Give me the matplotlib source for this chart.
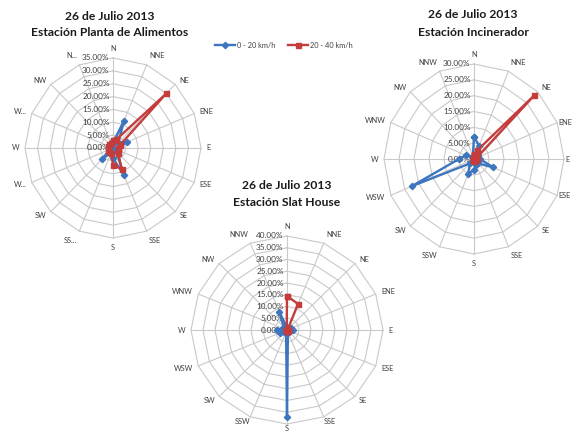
import matplotlib
matplotlib.use('Agg')
import matplotlib.pyplot as plt
import numpy as np

# ---------------- data ----------------
directions = ['N', 'NNE', 'NE', 'ENE', 'E', 'ESE', 'SE', 'SSE',
              'S', 'SSW', 'SW', 'WSW', 'W', 'WNW', 'NW', 'NNW']
labels_planta = ['N', 'NNE', 'NE', 'ENE', 'E', 'ESE', 'SE', 'SSE',
                 'S', 'SS...', 'SW', 'W...', 'W', 'W...', 'NW', 'N...']
series_names = ['0 - 20 km/h', '20 - 40 km/h']

title_date = '26 de Julio 2013'
title_planta = 'Estación Planta de Alimentos'
title_incin = 'Estación Incinerador'
title_slat = 'Estación Slat House'

# percentages per direction (N ... NNW)
planta_0_20 = [2, 11.5, 3, 6, 2, 1.5, 2, 11.5, 4, 2, 6, 1.5, 1, 1, 1, 2]
planta_20_40 = [3, 3.6, 30, 3, 2, 2, 3, 9, 6.5, 2, 2, 2, 2, 2, 2, 2]

incin_0_20 = [7, 4.5, 2, 1.5, 2, 7, 2, 2, 3.5, 5, 2, 22.5, 5, 3, 1, 1]
incin_20_40 = [1.5, 3, 28.5, 1, 0.5, 0.5, 0.5, 0.5, 0.5, 0.5, 0.5, 0.5, 0.5, 0.5, 0.5, 0.5]

slat_0_20 = [1, 1, 1, 2, 2.5, 1, 1, 1, 37, 1, 1.5, 3, 4, 2, 2, 8.5]
slat_20_40 = [14.5, 12, 0.5, 0.3, 0.3, 0.3, 0.3, 0.3, 0.3, 0.3, 0.3, 0.3, 0.3, 0.3, 0.3, 0.3]

# ---------------- style ----------------
W, H = 575, 436
BLUE = '#3D76BE'
RED = '#C43C3C'
GRID = '#C9C9C9'
TXT = '#404040'
TFONT = 'Lato'

fig = plt.figure(figsize=(W / 100, H / 100), dpi=100)
fig.patch.set_facecolor('white')


def radar(cx, cy, rx, ry, rmax, step, dir_labels, blue_vals, red_vals,
          right_gap=4.2, bottom_gap=4.2):
    ax = fig.add_axes([(cx - rx) / W, (H - cy - ry) / H, 2 * rx / W, 2 * ry / H],
                      projection='polar')
    ax.set_aspect('auto')
    ax.set_theta_zero_location('N')
    ax.set_theta_direction(-1)
    ax.set_ylim(0, rmax)
    ax.axis('off')
    n = len(directions)
    theta = np.deg2rad(np.arange(n) * 360.0 / n)
    tc = np.append(theta, theta[0])
    levels = np.arange(step, rmax + 1e-9, step)
    for lv in levels:
        ax.plot(tc, [lv] * (n + 1), color=GRID, lw=0.8, zorder=1, clip_on=False)
    for t in theta:
        ax.plot([t, t], [0, rmax], color=GRID, lw=0.8, zorder=1, clip_on=False)
    for lv in np.arange(0, rmax + 1e-9, step):
        ax.annotate(f'{lv:.2f}%', xy=(0, lv), xytext=(-2.5, 0), textcoords='offset points',
                    ha='right', va='center', fontsize=5.9, color=TXT, family=TFONT,
                    zorder=2)
    for t, lab in zip(theta, dir_labels):
        s, c = np.sin(t), np.cos(t)
        ha = 'left' if s > 0.2 else ('right' if s < -0.2 else 'center')
        va = 'bottom' if c > 0.8 else ('top' if c < -0.8 else 'center')
        gap = 4.2
        if s > 0.2 and abs(c) < 0.5:
            gap = right_gap
        if c < -0.8:
            gap = bottom_gap
        ax.annotate(lab, xy=(t, rmax), xytext=(gap * s, gap * c),
                    textcoords='offset points', ha=ha, va=va, fontsize=5.3,
                    color=TXT, family=TFONT, annotation_clip=False)
    lb, = ax.plot(tc, np.append(blue_vals, blue_vals[0]), color=BLUE, lw=1.7,
                  marker='D', ms=3.2, zorder=4, clip_on=False)
    lr, = ax.plot(tc, np.append(red_vals, red_vals[0]), color=RED, lw=1.7,
                  marker='s', ms=3.6, zorder=5, clip_on=False)
    return lb, lr


lb, lr = radar(113, 148, 88, 90, 35, 5, labels_planta, planta_0_20, planta_20_40)
radar(474, 159, 90, 95, 30, 5, directions, incin_0_20, incin_20_40, right_gap=1.0)
radar(287, 330, 96, 94, 40, 5, directions, slat_0_20, slat_20_40, bottom_gap=0.6)


def title(x, y1, y2, l2):
    fig.text(x / W, 1 - y1 / H, title_date, ha='center', va='center',
             fontsize=8.7, fontweight='bold', family=TFONT, color='#1a1a1a')
    fig.text(x / W, 1 - y2 / H, l2, ha='center', va='center',
             fontsize=8.7, fontweight='bold', family=TFONT, color='#1a1a1a')


title(110, 16, 33, title_planta)
title(473, 15, 33, title_incin)
title(287, 185, 202, title_slat)

fig.legend([lb, lr], series_names, loc='center', bbox_to_anchor=(284 / W, 1 - 45 / H),
           ncol=2, frameon=False, prop={'family': TFONT, 'size': 5.3},
           handlelength=2.6, columnspacing=1.8, handletextpad=0.3, labelcolor=TXT)

fig.savefig('out.png', dpi=100, facecolor='white')
